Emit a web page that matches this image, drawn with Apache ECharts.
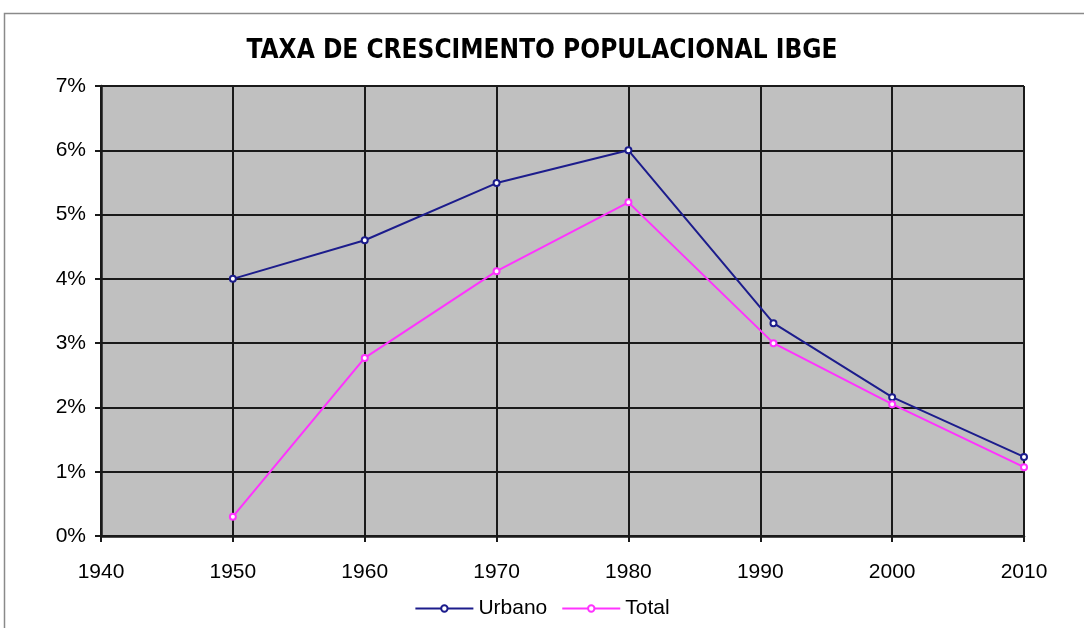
<!DOCTYPE html>
<html>
<head>
<meta charset="utf-8">
<script src="https://cdn.jsdelivr.net/npm/echarts@6/dist/echarts.min.js"></script>
<style>
	html, body { margin: 0; padding: 0; background: #fff; }
	#chart { width: 1084px; height: 628px; }
</style>
</head>
<body>
<div id="chart"></div>
<script>
	// anos e taxas (%)
	const anosUrbano = [1950, 1960, 1970, 1980, 1991, 2000, 2010]
	const taxaUrbano = [4.0, 4.6, 5.49, 6.0, 3.31, 2.16, 1.23]
	const anosTotal = [1950, 1960, 1970, 1980, 1991, 2000, 2010]
	const taxaTotal = [0.3, 2.77, 4.12, 5.19, 3.0, 2.05, 1.07]
	const titulo = 'TAXA DE CRESCIMENTO POPULACIONAL IBGE'

	const pares = (xs, ys) => xs.map((x, i) => [x, ys[i]])

	const chart = echarts.init(document.getElementById('chart'), null, { renderer: 'canvas' })

	const gridLine = { show: true, lineStyle: { color: '#1a1a1a', width: 2 } }
	const fonte = 'Liberation Sans, Arial, sans-serif'

	chart.setOption({
		animation: false,
		backgroundColor: '#fff',
		graphic: [{
			type: 'rect',
			shape: { x: 4.5, y: 13.5, width: 1200, height: 800 },
			style: { fill: 'none', stroke: '#8a8a8a', lineWidth: 1.5 },
			silent: true
		}],
		title: {
			text: titulo,
			left: 'center',
			top: 33,
			textStyle: {
				fontFamily: 'DejaVu Sans Condensed, Liberation Sans, sans-serif',
				fontWeight: 'bold',
				fontSize: 26,
				color: '#000'
			}
		},
		legend: {
			bottom: 4,
			left: 'center',
			itemWidth: 58,
			itemHeight: 8,
			itemGap: 14,
			textStyle: { fontFamily: fonte, fontSize: 21, color: '#000' },
			data: [
				{ name: 'Urbano', itemStyle: { color: '#1c1c8c', borderWidth: 0 } },
				{ name: 'Total', itemStyle: { color: '#ff33ff', borderWidth: 0 } }
			]
		},
		grid: {
			left: 101,
			right: 60,
			top: 86,
			bottom: 92,
			show: true,
			backgroundColor: '#c0c0c0',
			borderWidth: 0
		},
		xAxis: {
			type: 'value',
			min: 1940,
			max: 2010,
			interval: 10,
			axisLine: { show: true, lineStyle: { color: '#1a1a1a', width: 2.5 } },
			axisTick: { show: true, length: 6, lineStyle: { color: '#1a1a1a', width: 2 } },
			axisLabel: { fontFamily: fonte, fontSize: 21, color: '#000', margin: 26, formatter: v => String(v) },
			splitLine: gridLine
		},
		yAxis: {
			type: 'value',
			min: 0,
			max: 7,
			interval: 1,
			axisLine: { show: true, lineStyle: { color: '#1a1a1a', width: 2.5 } },
			axisTick: { show: true, length: 6, lineStyle: { color: '#1a1a1a', width: 2 } },
			axisLabel: { fontFamily: fonte, fontSize: 21, color: '#000', margin: 15, formatter: '{value}%' },
			splitLine: gridLine
		},
		series: [
			{
				name: 'Urbano',
				type: 'line',
				data: pares(anosUrbano, taxaUrbano),
				symbol: 'emptyCircle',
				symbolSize: 6,
				color: '#1c1c8c',
				lineStyle: { width: 2, color: '#1c1c8c' },
				itemStyle: { color: '#1c1c8c', borderWidth: 1.5 }
			},
			{
				name: 'Total',
				type: 'line',
				data: pares(anosTotal, taxaTotal),
				symbol: 'emptyCircle',
				symbolSize: 6,
				color: '#ff33ff',
				lineStyle: { width: 2, color: '#ff33ff' },
				itemStyle: { color: '#ff33ff', borderWidth: 1.5 }
			}
		]
	})
</script>
</body>
</html>
